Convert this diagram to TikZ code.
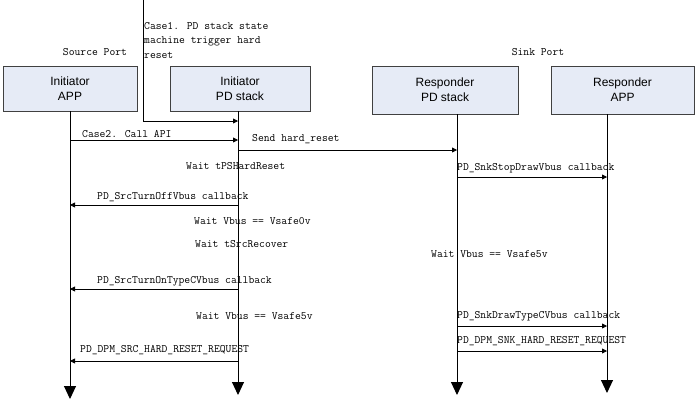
\documentclass[tikz,border=0pt]{standalone}
\usepackage{fontspec}
\newfontfamily\boxfont{Liberation Sans}
\usetikzlibrary{arrows.meta}
\definecolor{boxfill}{RGB}{230,235,246}

\tikzset{
    actor/.style = {draw = black!75, line width = 0.8pt, fill = boxfill,
                    font = \boxfont\fontsize{12}{15}\selectfont, align = center, inner sep = 0pt},
    lbl/.style   = {anchor = west, inner sep = 0pt, font = \ttfamily\fontsize{11.3}{14.5}\selectfont},
    life/.style  = {line width = 1pt, -{Triangle[length = 13pt, width = 12pt]}},
    msg/.style   = {line width = 0.8pt, -{Triangle[length = 5pt, width = 5pt]}}
}

\begin{document}
\begin{tikzpicture}[x = 1pt, y = -1pt]

        \useasboundingbox (0, 0) rectangle (698, 400);

        \node[actor, minimum width = 134, minimum height = 45] (iapp) at (70, 88.5) {Initiator\\APP};
        \node[actor, minimum width = 140, minimum height = 45] (ipd) at (240, 88.5) {Initiator\\PD stack};
        \node[actor, minimum width = 146, minimum height = 48] (rpd) at (445, 90) {Responder\\PD stack};
        \node[actor, minimum width = 143, minimum height = 48] (rapp) at (622.5, 90) {Responder\\APP};

        \node[lbl, anchor = center] (srcport) at (95, 52) {Source Port};
        \node[lbl, anchor = center] (snkport) at (538, 52) {Sink Port};

        \coordinate (la) at (iapp.south);
        \coordinate (lb) at (238, 111);
        \coordinate (lc) at (457, 114);
        \coordinate (ld) at (607, 114);

        \foreach \l/\b in {la/399, lb/395, lc/395, ld/393}{
                \draw[life] (\l) -- (\l |- 0, \b);
            }

        \coordinate (trig) at (143, 0);
        \draw[msg] (trig) |- (lb |- 0, 121);
        \node[lbl, align = left, anchor = north west] (case1) at (144, 22) {Case1. PD stack state\\machine trigger hard\\reset};

        \foreach \f/\t/\y in {la/lb/140, lb/lc/150, lc/ld/177, lb/la/205, lb/la/289, lc/ld/326, lc/ld/351, lb/la/361}{
                \draw[msg] (\f |- 0, \y) -- (\t |- 0, \y);
            }

        \node[lbl] (case2) at (82, 134) {Case2. Call API};
        \node[lbl] (hreset) at (252, 139) {Send hard\_reset};
        \node[lbl] (wpshr) at (186, 166) {Wait tPSHardReset};
        \node[lbl] (stopdraw) at (457, 168) {PD\_SnkStopDrawVbus callback};
        \node[lbl] (turnoff) at (97, 197) {PD\_SrcTurnOffVbus callback};
        \node[lbl] (wsafe0) at (194, 221) {Wait Vbus == Vsafe0v};
        \node[lbl] (wrecov) at (195, 244) {Wait tSrcRecover};
        \node[lbl] (wsafe5r) at (431, 254) {Wait Vbus == Vsafe5v};
        \node[lbl] (turnon) at (97, 281) {PD\_SrcTurnOnTypeCVbus callback};
        \node[lbl] (wsafe5l) at (196, 316) {Wait Vbus == Vsafe5v};
        \node[lbl] (drawtc) at (457, 316) {PD\_SnkDrawTypeCVbus callback};
        \node[lbl] (snkreq) at (457, 341) {PD\_DPM\_SNK\_HARD\_RESET\_REQUEST};
        \node[lbl] (srcreq) at (80, 350) {PD\_DPM\_SRC\_HARD\_RESET\_REQUEST};

    \end{tikzpicture}
\end{document}
